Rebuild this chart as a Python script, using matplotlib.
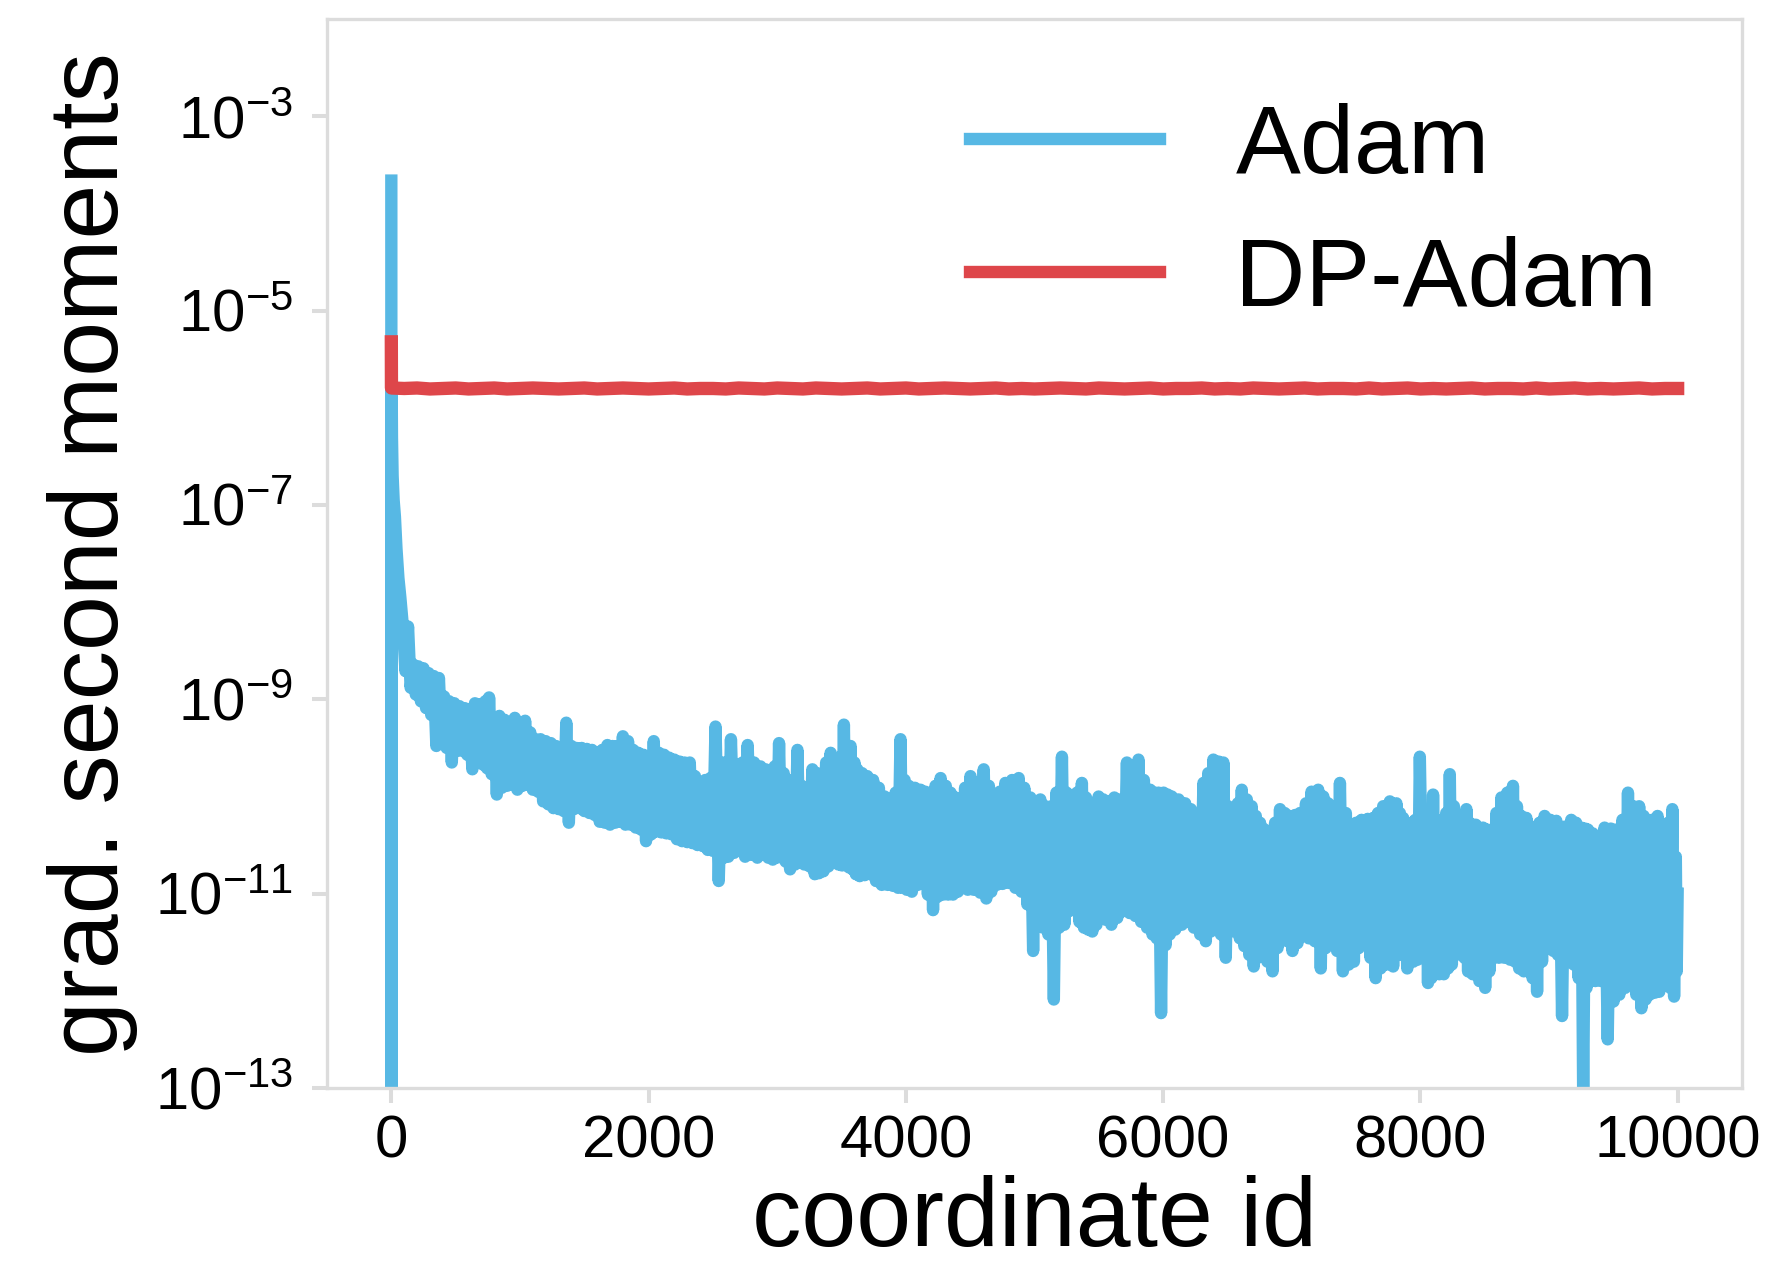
import numpy as np
import matplotlib
matplotlib.use("Agg")
import matplotlib.pyplot as plt
from matplotlib.ticker import NullLocator

plt.rcParams['font.family'] = ['Liberation Sans', 'DejaVu Sans']
plt.rcParams['mathtext.default'] = 'regular'

# ---------------- data (log10 of gradient second moments) ----------------
# Adam: first coordinates (sharp decay from the huge first coordinate)
adam_head_x = [0, 1, 2, 5, 10, 18, 28, 40, 55, 70]
adam_head_log = [-3.66, -16.0, -5.6, -6.3, -6.7, -6.95, -7.12, -7.45, -7.75, -7.95]

# Adam: noisy band, read as local maxima / minima
band_x = [90, 130, 170, 210, 250, 290, 330, 370, 410, 450, 490, 530, 570, 610, 650, 690, 730, 760,
          800, 840, 880, 920, 960, 1000, 1040, 1080, 1120, 1160, 1200, 1240, 1280, 1320, 1360, 1400,
          1440, 1480, 1520, 1560, 1600, 1640, 1680, 1720, 1760, 1800, 1840, 1880, 1920, 1960, 2000,
          2040, 2080, 2120, 2160, 2200, 2240, 2280, 2320, 2360, 2400, 2440, 2480, 2520, 2570, 2600,
          2640, 2690, 2730, 2770, 2820, 2870, 2910, 2950, 2980, 3014, 3050, 3080, 3120, 3157, 3190,
          3230, 3273, 3310, 3338, 3380, 3415, 3460, 3490, 3518, 3545, 3570, 3600, 3622, 3660, 3700,
          3745, 3790, 3835, 3880, 3920, 3958, 3990, 4023, 4070, 4114, 4150, 4192, 4230, 4270, 4310,
          4347, 4385, 4424, 4460, 4502, 4550, 4605, 4645, 4683, 4730, 4773, 4825, 4877, 4920, 4968,
          5010, 5045, 5085, 5130, 5170, 5213, 5250, 5291, 5330, 5368, 5400, 5433, 5465, 5498, 5535,
          5575, 5620, 5666, 5718, 5760, 5808, 5850, 5899, 5935, 5964, 6003, 6035, 6067, 6120, 6171,
          6215, 6262, 6313, 6350, 6390, 6430, 6468, 6505, 6546, 6580, 6611, 6650, 6688, 6720, 6753,
          6790, 6830, 6870, 6908, 6945, 6985, 7025, 7063, 7110, 7153, 7205, 7245, 7283, 7330, 7374,
          7420, 7465, 7500, 7542, 7590, 7633, 7670, 7710, 7762, 7813, 7840, 7865, 7930, 7960, 7995,
          8047, 8070, 8098, 8130, 8163, 8200, 8228, 8260, 8292, 8325, 8357, 8383, 8430, 8486, 8520,
          8551, 8590, 8629, 8675, 8719, 8750, 8784, 8823, 8855, 8888, 8925, 8965, 9010, 9056, 9081,
          9120, 9172, 9210, 9250, 9280, 9302, 9340, 9379, 9431, 9480, 9522, 9570, 9613, 9655, 9700,
          9735, 9765, 9800, 9843, 9870, 9893, 9925, 9958, 9985]

band_top = [-8.25, -8.25, -8.64, -8.66, -8.68, -8.73, -8.76, -8.78, -8.97, -9.02, -9.04, -9.07, -9.09,
            -9.14, -9.04, -9.05, -9.02, -8.98, -9.21, -9.17, -9.21, -9.28, -9.19, -9.24, -9.22, -9.34,
            -9.41, -9.41, -9.43, -9.45, -9.48, -9.55, -9.24, -9.48, -9.50, -9.50, -9.51, -9.52, -9.55,
            -9.52, -9.47, -9.48, -9.48, -9.38, -9.43, -9.52, -9.55, -9.57, -9.59, -9.43, -9.55, -9.57,
            -9.60, -9.62, -9.64, -9.65, -9.65, -9.79, -9.86, -9.83, -9.81, -9.28, -9.65, -9.65, -9.41,
            -9.67, -9.65, -9.47, -9.65, -9.69, -9.72, -9.79, -9.69, -9.45, -9.76, -9.96, -9.83, -9.52,
            -9.89, -9.96, -9.72, -9.76, -9.79, -9.65, -9.55, -9.69, -9.59, -9.26, -9.55, -9.48, -9.65,
            -9.72, -9.76, -9.79, -9.83, -9.91, -10.00, -10.10, -9.96, -9.41, -9.83, -9.89, -9.91, -9.93,
            -9.95, -9.96, -9.89, -9.81, -9.89, -9.96, -10.01, -10.03, -9.91, -9.79, -9.86, -9.72, -9.89,
            -10.00, -9.95, -9.86, -9.83, -9.81, -9.91, -10.01, -10.07, -10.03, -10.10, -10.10, -9.96,
            -9.59, -9.96, -10.03, -9.96, -9.86, -10.01, -10.13, -10.07, -10.00, -10.03, -10.05, -10.01,
            -10.03, -9.65, -9.76, -9.62, -9.83, -9.93, -9.96, -9.96, -9.96, -9.98, -10.00, -10.03,
            -10.07, -10.13, -10.20, -9.86, -9.76, -9.62, -9.64, -9.65, -10.10, -10.20, -10.07, -9.93,
            -10.03, -10.10, -10.20, -10.27, -10.34, -10.41, -10.27, -10.13, -10.17, -10.20, -10.19,
            -10.17, -10.07, -9.95, -9.93, -10.00, -10.07, -10.10, -9.86, -10.17, -10.32, -10.27, -10.24,
            -10.23, -10.22, -10.17, -10.10, -10.05, -10.07, -10.17, -10.22, -10.27, -10.24, -9.59,
            -10.38, -10.17, -9.98, -10.24, -10.31, -10.17, -9.77, -10.10, -10.27, -10.20, -10.13,
            -10.27, -10.29, -10.32, -10.34, -10.38, -10.17, -10.01, -9.96, -9.89, -10.10, -10.20,
            -10.22, -10.31, -10.41, -10.27, -10.20, -10.24, -10.25, -10.41, -10.31, -10.24, -10.27,
            -10.32, -10.33, -10.34, -10.38, -10.41, -10.32, -10.33, -10.34, -10.24, -9.96, -10.10,
            -10.10, -10.20, -10.27, -10.24, -10.20, -10.31, -10.44, -10.27, -10.13, -10.62]

band_bottom = [-8.71, -8.88, -8.95, -9.02, -9.09, -9.16, -9.48, -9.43, -9.50, -9.65, -9.53, -9.53, -9.57,
               -9.72, -9.65, -9.67, -9.71, -9.77, -9.98, -9.91, -9.89, -9.88, -9.93, -9.89, -9.88, -9.93,
               -9.95, -10.05, -10.08, -10.12, -10.13, -10.15, -10.27, -10.13, -10.12, -10.15, -10.17,
               -10.19, -10.26, -10.27, -10.29, -10.27, -10.26, -10.29, -10.29, -10.32, -10.34, -10.46,
               -10.39, -10.36, -10.37, -10.38, -10.39, -10.44, -10.46, -10.47, -10.48, -10.50, -10.51,
               -10.55, -10.56, -10.87, -10.63, -10.62, -10.58, -10.56, -10.62, -10.60, -10.63, -10.60,
               -10.63, -10.65, -10.63, -10.60, -10.67, -10.75, -10.70, -10.68, -10.70, -10.72, -10.80,
               -10.79, -10.77, -10.72, -10.67, -10.70, -10.71, -10.70, -10.73, -10.75, -10.80, -10.82,
               -10.81, -10.80, -10.87, -10.91, -10.91, -10.92, -10.94, -10.94, -10.96, -10.98, -10.91,
               -10.87, -11.01, -11.17, -11.03, -11.01, -11.01, -11.01, -10.98, -10.94, -10.96, -10.96,
               -10.99, -11.05, -10.98, -10.91, -10.90, -10.89, -10.94, -10.98, -11.11, -11.59, -11.34,
               -11.35, -11.42, -12.09, -11.35, -11.32, -11.18, -11.01, -11.29, -11.35, -11.37, -11.39,
               -11.32, -11.22, -11.27, -11.32, -11.25, -11.18, -11.20, -11.23, -11.29, -11.35, -11.42,
               -11.46, -12.23, -11.53, -11.42, -11.37, -11.32, -11.29, -11.35, -11.42, -11.49, -11.39,
               -11.35, -11.42, -11.66, -11.39, -11.35, -11.46, -11.54, -11.63, -11.75, -11.66, -11.59,
               -11.70, -11.80, -11.56, -11.39, -11.49, -11.59, -11.51, -11.42, -11.46, -11.49, -11.77,
               -11.56, -11.39, -11.59, -11.80, -11.73, -11.70, -11.56, -11.46, -11.66, -11.87, -11.77,
               -11.73, -11.75, -11.49, -11.63, -11.77, -11.70, -11.68, -11.66, -11.92, -11.87, -11.83,
               -11.83, -11.83, -11.77, -11.73, -11.63, -11.49, -11.66, -11.80, -11.83, -11.90, -11.97,
               -11.80, -11.66, -11.66, -11.66, -11.68, -11.70, -11.77, -11.80, -11.77, -11.87, -12.01,
               -11.70, -11.56, -11.59, -11.63, -12.26, -11.70, -11.73, -11.87, -13.10, -11.97, -11.90,
               -11.90, -11.90, -12.50, -12.11, -12.04, -11.97, -11.90, -12.04, -12.18, -12.09, -12.04,
               -12.02, -12.01, -11.94, -11.87, -11.97, -12.06, -11.80]

adam_tail_x = [9999]
adam_tail_log = [-11.0]

# DP-Adam: almost flat, slightly jittery
dp_x = [0, 1] + list(range(100, 10000, 100)) + [9999]
dp_log = [-5.32, -5.795,
          -5.800, -5.795, -5.805, -5.800, -5.795, -5.805, -5.800, -5.795, -5.805, -5.800,
          -5.795, -5.800, -5.805, -5.800, -5.795, -5.805, -5.800, -5.795, -5.800, -5.805,
          -5.800, -5.795, -5.805, -5.800, -5.800, -5.805, -5.795, -5.800, -5.805, -5.795,
          -5.800, -5.805, -5.795, -5.800, -5.805, -5.800, -5.795, -5.805, -5.800, -5.795,
          -5.805, -5.800, -5.795, -5.800, -5.805, -5.800, -5.795, -5.805, -5.800, -5.805,
          -5.800, -5.795, -5.800, -5.805, -5.795, -5.800, -5.805, -5.800, -5.795, -5.805,
          -5.800, -5.800, -5.795, -5.805, -5.800, -5.805, -5.795, -5.800, -5.805, -5.800,
          -5.795, -5.805, -5.800, -5.800, -5.805, -5.795, -5.805, -5.800, -5.795, -5.805,
          -5.800, -5.805, -5.800, -5.795, -5.805, -5.800, -5.800, -5.805, -5.795, -5.805,
          -5.800, -5.795, -5.805, -5.800, -5.805, -5.800, -5.795, -5.805, -5.800,
          -5.800]

labels = ['Adam', 'DP-Adam']
x_ticks = [0, 2000, 4000, 6000, 8000, 10000]
y_ticks = [1e-13, 1e-11, 1e-9, 1e-7, 1e-5, 1e-3]

BLUE = '#57B8E4'
RED = '#DE464A'
GRID_GRAY = '#DCDCDC'

# ---------------- assemble Adam series (peaks and troughs alternate) ----------------
adam_x = list(adam_head_x)
adam_log = list(adam_head_log)
for i, x in enumerate(band_x):
    nxt = band_x[i + 1] if i + 1 < len(band_x) else adam_tail_x[0]
    adam_x.append(x)
    adam_log.append(band_top[i])
    adam_x.append((x + nxt) / 2.0)
    adam_log.append(band_bottom[i])
adam_x += adam_tail_x
adam_log += adam_tail_log

adam_y = 10.0 ** np.array(adam_log)
dp_y = 10.0 ** np.array(dp_log)

# ---------------- figure ----------------
fig = plt.figure(figsize=(17.84, 12.63), dpi=100)
ax = fig.add_axes([0.1833, 0.1386, 0.7932, 0.8461])

ax.plot(adam_x, adam_y, color=BLUE, lw=8.9, label=labels[0])
ax.plot(dp_x, dp_y, color=RED, lw=9.6, label=labels[1])

ax.set_yscale('log')
ax.set_xlim(-500, 10500)
ax.set_ylim(1e-13, 1e-2)
ax.set_xticks(x_ticks)
ax.set_yticks(y_ticks)
ax.yaxis.set_minor_locator(NullLocator())

for s in ax.spines.values():
    s.set_color(GRID_GRAY)
    s.set_linewidth(2.4)

ax.tick_params(axis='both', which='major', length=10.8, width=2.9, color=GRID_GRAY,
               labelsize=43, labelcolor='black')
ax.tick_params(axis='x', pad=8)
ax.tick_params(axis='y', pad=14)

ax.set_xlabel('coordinate id', fontsize=71, labelpad=4)
ax.set_ylabel('grad. second moments', fontsize=71, labelpad=12)

leg = ax.legend(loc='upper right', bbox_to_anchor=(0.940, 0.922), frameon=False,
                fontsize=70, handlelength=1.95, handletextpad=0.78, labelspacing=0.45,
                borderaxespad=0, borderpad=0)
for h in leg.get_lines():
    h.set_linewidth(8.9)

fig.savefig('out.png', dpi=100)
